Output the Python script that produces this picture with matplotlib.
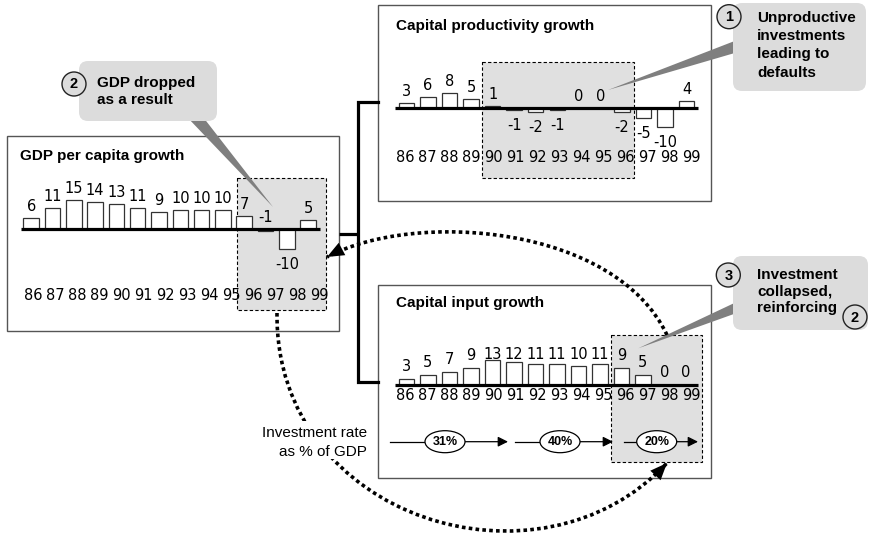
import numpy as np
import matplotlib.pyplot as plt
from matplotlib.patches import Rectangle, FancyBboxPatch, Circle, Polygon, Ellipse, PathPatch
from matplotlib.path import Path

W, H = 869, 534

years = ['86', '87', '88', '89', '90', '91', '92', '93', '94', '95', '96', '97', '98', '99']
gdp_growth = [6, 11, 15, 14, 13, 11, 9, 10, 10, 10, 7, -1, -10, 5]
capital_productivity = [3, 6, 8, 5, 1, -1, -2, -1, 0, 0, -2, -5, -10, 4]
capital_input = [3, 5, 7, 9, 13, 12, 11, 11, 10, 11, 9, 5, 0, 0]
investment_rate = ['31%', '40%', '20%']

BOLD = 'Liberation Sans'
NUM = 'DejaVu Sans'

fig = plt.figure(figsize=(W / 100, H / 100), dpi=100)
ax = fig.add_axes([0, 0, 1, 1])
ax.set_xlim(0, W)
ax.set_ylim(H, 0)
ax.axis('off')


def bar_panel(values, x0, dx, base, unit, line_x, years_x0, years_y,
              label_off=12, label_cap=None, above=()):
    # one small axes per chart, pixel-aligned with the drawing
    left, right = x0 - dx, x0 + 14 * dx
    top, bottom = base - 25 * unit, base + 25 * unit
    pax = fig.add_axes([left / W, 1 - bottom / H, (right - left) / W, (bottom - top) / H])
    pax.set_xlim(-1, 14)
    pax.set_ylim(-25, 25)
    pax.axis('off')
    idx = np.arange(len(values))
    pax.bar(idx, values, width=15.5 / dx, color='white', edgecolor='#333333',
            linewidth=0.9, zorder=2)
    pax.plot([(line_x[0] - x0) / dx, (line_x[1] - x0) / dx], [0, 0], color='black',
             lw=2.3, solid_capstyle='butt', zorder=3)
    for i, v in enumerate(values):
        if v >= 0 or i in above:
            yc = max(v, 0) + label_off / unit
            if label_cap is not None:
                yc = min(yc, label_cap / unit)
        else:
            yc = v - 15 / unit
        pax.text(i, yc - 5 / unit, str(v), ha='center', va='baseline',
                 fontsize=10.5, family=NUM, clip_on=False)
    for i, yr in enumerate(years):
        pax.text((years_x0 - x0) / dx + i * 22 / dx, (base - years_y) / unit - 5 / unit, yr,
                 ha='center', va='baseline', fontsize=10.5, family=NUM, clip_on=False)
    return pax


def shade(x0, y0, x1, y1):
    ax.add_patch(Rectangle((x0, y0), x1 - x0, y1 - y0, facecolor='#e0e0e0',
                           edgecolor='black', lw=0.8, linestyle=(0, (3, 2)), zorder=1))


def panel_box(x0, y0, x1, y1):
    ax.add_patch(Rectangle((x0, y0), x1 - x0, y1 - y0, facecolor='none',
                           edgecolor='#555555', lw=1.0, zorder=1))


def number_circle(x, y, num):
    ax.add_patch(Circle((x, y), 12, facecolor='#dcdcdc', edgecolor='#222222', lw=1.0, zorder=6))
    ax.text(x, y + 0.5, num, ha='center', va='center', fontsize=10.5, weight='bold',
            family=BOLD, zorder=7)


def callout(box, pointer, circle, num, lines, text_x, y0, dy):
    ax.add_patch(Polygon(pointer, closed=True, facecolor='#7f7f7f', edgecolor='none', zorder=4))
    x0, y0b, x1, y1 = box
    ax.add_patch(FancyBboxPatch((x0, y0b), x1 - x0, y1 - y0b,
                                boxstyle='round,pad=0,rounding_size=9',
                                facecolor='#dcdcdc', edgecolor='none', zorder=5))
    number_circle(circle[0], circle[1], num)
    for k, line in enumerate(lines):
        ax.text(text_x, y0 + k * dy, line, ha='left', va='center', fontsize=11,
                weight='bold', family=BOLD, zorder=7)


def dotted_curve(p0, p1, p2, p3):
    verts = [p0, p1, p2, p3]
    codes = [Path.MOVETO, Path.CURVE4, Path.CURVE4, Path.CURVE4]
    ax.add_patch(PathPatch(Path(verts, codes), facecolor='none', edgecolor='black',
                           lw=2.6, linestyle=(0, (1, 0.9)), capstyle='butt', zorder=8))
    # arrow head along the end tangent
    end = np.array(p3, float)
    d = end - np.array(p2, float)
    d /= np.hypot(*d)
    n = np.array([-d[1], d[0]])
    L, Wd = 17, 7
    head = [end, end - L * d + Wd * n, end - L * d - Wd * n]
    ax.add_patch(Polygon(head, closed=True, facecolor='black', edgecolor='none', zorder=9))


# shaded periods
shade(236.7, 178, 325.7, 310)
shade(482.3, 61.7, 634.3, 178.3)
shade(610.7, 335, 701.7, 461.7)

# panel frames and titles
panel_box(7, 136, 339, 331)
panel_box(378, 5, 711, 201)
panel_box(378, 285, 711, 478)
ax.text(20, 156, 'GDP per capita growth', fontsize=11, weight='bold', family=BOLD, va='center')
ax.text(396, 26, 'Capital productivity growth', fontsize=11, weight='bold', family=BOLD, va='center')
ax.text(396, 303, 'Capital input growth', fontsize=11, weight='bold', family=BOLD, va='center')

# tree connectors
ax.plot([378, 358, 358, 378], [101.7, 101.7, 381.7, 381.7], color='black', lw=2.3,
        solid_joinstyle='miter', zorder=2)
ax.plot([339, 358], [233.5, 233.5], color='black', lw=2.3, solid_capstyle='butt', zorder=2)

# bar charts
bar_panel(gdp_growth, 31.2, 21.3, 229.3, 1.95, (21, 320), 33.7, 295, above=(11,))
bar_panel(capital_productivity, 406.3, 21.57, 108.3, 1.9, (395, 698), 405, 156.7)
bar_panel(capital_input, 406.3, 21.5, 385, 1.92, (395, 698), 405, 395,
          label_off=13, label_cap=31)

# investment rate sequence
row_y = 441.7
rate_x = [445, 560, 656.7]
seg_start = [390, 515, 624]
seg_end = [508, 613, 698]
for rate, cx, s0, s1 in zip(investment_rate, rate_x, seg_start, seg_end):
    ax.plot([s0, cx - 20], [row_y, row_y], color='black', lw=0.9, zorder=3)
    ax.annotate('', xy=(s1, row_y), xytext=(cx + 20, row_y),
                arrowprops=dict(arrowstyle='-|>', mutation_scale=15, lw=0.9,
                                color='black', shrinkA=0, shrinkB=0), zorder=3)
    ax.add_patch(Ellipse((cx, row_y), 40, 22, facecolor='white', edgecolor='black',
                         lw=0.9, zorder=4))
    ax.text(cx, row_y + 0.5, rate, ha='center', va='center', fontsize=9, weight='bold',
            family=BOLD, zorder=5)

# callouts
callout((79, 61, 217, 121), [(187, 117), (203, 117), (273, 207)], (74, 84), '2',
        ['GDP dropped', 'as a result'], 97, 83, 17)
callout((733, 3, 866, 91), [(745, 37), (745, 50), (608, 90)], (729, 16.7), '1',
        ['Unproductive', 'investments', 'leading to', 'defaults'], 757, 18, 18.2)
callout((733, 256, 868, 330), [(745, 298), (745, 310), (638.3, 348.3)], (728.3, 275), '3',
        ['Investment', 'collapsed,', 'reinforcing'], 757, 275, 16.7)
number_circle(855, 317, '2')

# feedback loops
dotted_curve((667, 335), (615, 225), (415, 210), (327, 257))
dotted_curve((277, 313), (275, 520), (540, 600), (667, 463))

ax.add_patch(Rectangle((258, 421), 112, 38, facecolor='white', edgecolor='none', zorder=10))
ax.text(366.7, 433.3, 'Investment rate', ha='right', va='center', fontsize=11,
        family=BOLD, zorder=11)
ax.text(366.7, 451.7, 'as % of GDP', ha='right', va='center', fontsize=11,
        family=BOLD, zorder=11)

fig.savefig('out.png', dpi=100)
